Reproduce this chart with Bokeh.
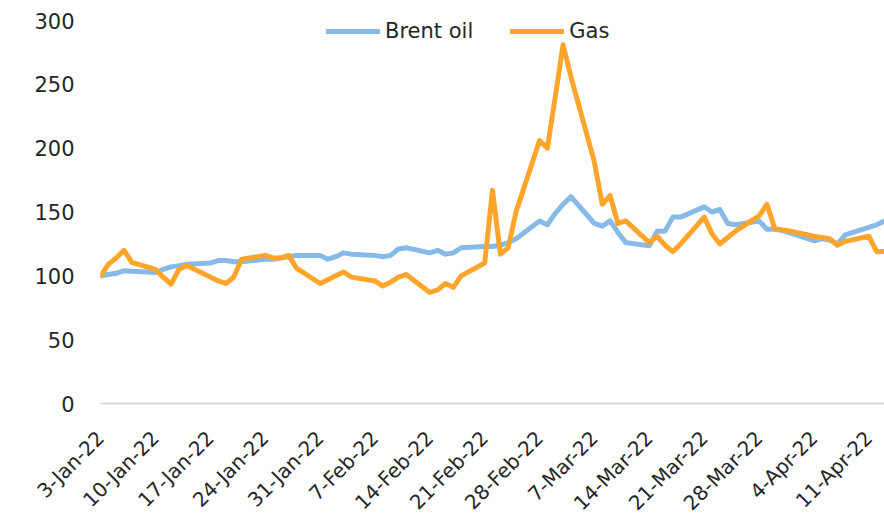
import math
import pandas as pd
from bokeh.plotting import figure
from bokeh.models import FixedTicker, Legend, LegendItem, Range1d, ColumnDataSource
from bokeh.embed import file_html
from bokeh.resources import INLINE

# ---- data (index, 3-Jan-22 = 100), business days ----
dates = pd.bdate_range("2022-01-03", "2022-04-13")
brent = [100, 101, 102, 104, 103.5,
         102.6, 105, 107, 108, 109,
         110, 112, 112, 111, 111,
         113, 113, 114, 115, 116,
         116, 113, 115, 118, 117,
         116, 115, 116, 121, 122,
         118, 120, 117, 118, 122,
         123, 123, 124, 126, 129,
         143, 140, 149, 156, 162,
         141, 139, 143, 134, 126,
         123.5, 135, 135, 146, 146,
         154, 150, 152, 141, 140,
         143, 136.5, 136.5, 135.5, 133.5,
         127.5, 129, 128, 125, 132,
         138, 140, 143]
gas = [100, 109, 114, 120, 110.5,
       105, 99, 93.5, 105, 108,
       99, 96, 94, 99, 113,
       116, 114, 114, 116, 106,
       94, 97, 100, 103, 99,
       96, 92, 95, 99, 101,
       87, 89, 94, 91, 100,
       110, 167, 117, 122, 150,
       206, 200, 240, 281, 256,
       189, 156, 163, 141, 143,
       126, 131, 124, 119, 125,
       146, 133, 125, 130, 135,
       147, 156, 137, 136, 135,
       131, 130, 129, 124, 127,
       131, 119, 119]
tick_dates = pd.date_range("2022-01-03", "2022-04-11", freq="7D")
tick_labels = ["3-Jan-22", "10-Jan-22", "17-Jan-22", "24-Jan-22", "31-Jan-22",
               "7-Feb-22", "14-Feb-22", "21-Feb-22", "28-Feb-22", "7-Mar-22",
               "14-Mar-22", "21-Mar-22", "28-Mar-22", "4-Apr-22", "11-Apr-22"]
y_ticks = [0, 50, 100, 150, 200, 250, 300]

FONT = "DejaVu Sans"
TXT = "#262626"
BLUE = "#87bae6"
ORANGE = "#ffa52b"

src = ColumnDataSource(dict(date=dates, brent=brent, gas=gas))

p = figure(width=884, height=526, x_axis_type="datetime",
           x_range=Range1d(dates[0], dates[-1]), y_range=Range1d(0, 300),
           output_backend="svg", toolbar_location=None,
           min_border_left=100, min_border_right=0, min_border_top=20,
           min_border_bottom=118)
p.outline_line_color = None
p.xgrid.visible = False
p.ygrid.visible = False

r1 = p.line("date", "brent", source=src, line_color=BLUE, line_width=5,
            line_cap="round", line_join="round")
r2 = p.line("date", "gas", source=src, line_color=ORANGE, line_width=5,
            line_cap="round", line_join="round")

tick_ms = [t.timestamp() * 1000 for t in tick_dates]
p.xaxis.ticker = FixedTicker(ticks=tick_ms)
p.xaxis.major_label_overrides = {t: l for t, l in zip(tick_ms, tick_labels)}
p.xaxis.major_label_orientation = math.pi / 4
p.xaxis.axis_line_color = "#d9d9d9"
p.xaxis.axis_line_width = 2
p.xaxis.major_tick_line_color = None
p.xaxis.minor_tick_line_color = None
p.xaxis.major_tick_out = 0
p.xaxis.major_label_text_font = FONT
p.xaxis.major_label_text_font_size = "20px"
p.xaxis.major_label_text_color = TXT
p.xaxis.major_label_standoff = 31

p.yaxis.ticker = FixedTicker(ticks=y_ticks)
p.yaxis.axis_line_color = None
p.yaxis.major_tick_line_color = None
p.yaxis.minor_tick_line_color = None
p.yaxis.major_tick_out = 0
p.yaxis.major_label_standoff = 26
p.yaxis.major_label_text_font = FONT
p.yaxis.major_label_text_font_size = "21px"
p.yaxis.major_label_text_color = TXT

legend = Legend(items=[LegendItem(label="Brent oil", renderers=[r1]),
                       LegendItem(label="Gas", renderers=[r2])],
                location=(226, 360), orientation="horizontal",
                border_line_color=None, background_fill_alpha=0,
                glyph_width=54, glyph_height=24, label_height=24,
                label_standoff=5, spacing=37, padding=0, margin=0,
                label_text_font=FONT, label_text_font_size="21px",
                label_text_color=TXT)
p.add_layout(legend)

open("out.html", "w").write(file_html(p, INLINE))
